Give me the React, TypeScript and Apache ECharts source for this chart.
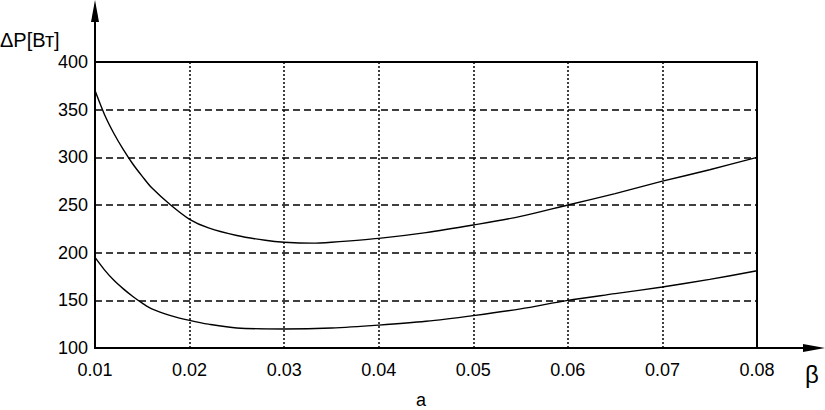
import React, { useEffect, useRef } from "react";
import * as echarts from "echarts";

const upperX = [0.01, 0.011, 0.012, 0.013, 0.014, 0.015, 0.016, 0.018, 0.02, 0.022, 0.025, 0.028, 0.03, 0.033, 0.035, 0.04, 0.045, 0.05, 0.055, 0.06, 0.065, 0.07, 0.075, 0.08];
const upperY = [370, 345, 325, 308, 293, 280, 268, 250, 235, 226, 218, 213, 211, 210, 211, 215, 221, 229, 238, 250, 262, 275, 287, 300];
const lowerX = [0.01, 0.011, 0.012, 0.013, 0.014, 0.015, 0.016, 0.018, 0.02, 0.022, 0.025, 0.03, 0.035, 0.04, 0.045, 0.05, 0.055, 0.06, 0.065, 0.07, 0.075, 0.08];
const lowerY = [195, 182, 171, 162, 154, 147, 141, 134, 129, 125, 121, 120, 121, 124, 128, 134, 141, 150, 157, 164, 172, 181];
const yTicks = [100, 150, 200, 250, 300, 350, 400];

const FONT = "'Liberation Sans', Arial, sans-serif";

export default function App() {
  const ref = useRef<HTMLDivElement>(null);
  useEffect(() => {
    const chart = echarts.init(ref.current!, null, { renderer: "svg" });
    const left = 95, right = 68, top = 62, bottom = 62;
    const W = 825, H = 410;
    const axisY = H - bottom;
    chart.setOption({
      animation: false,
      backgroundColor: "#fff",
      grid: { left, right, top, bottom, show: true, borderColor: "#000", borderWidth: 2 },
      xAxis: {
        type: "value", min: 0.01, max: 0.08, interval: 0.01,
        axisLine: { show: false },
        axisTick: { show: false },
        axisLabel: { color: "#000", fontFamily: FONT, fontSize: 18, margin: 13, formatter: (v: number) => v.toFixed(2) },
        splitLine: { show: true, lineStyle: { color: "#000", type: [2, 2], width: 1.5 } },
      },
      yAxis: {
        type: "value", min: yTicks[0], max: yTicks[yTicks.length - 1], interval: 50,
        axisLine: { show: false },
        axisTick: { show: false },
        axisLabel: { color: "#000", fontFamily: FONT, fontSize: 18, margin: 7 },
        splitLine: { show: true, lineStyle: { color: "#000", type: [7, 4], width: 1.5 } },
      },
      series: [
        { type: "line", data: upperX.map((x, i) => [x, upperY[i]]), showSymbol: false, smooth: 0.3, lineStyle: { color: "#000", width: 1.4 } },
        { type: "line", data: lowerX.map((x, i) => [x, lowerY[i]]), showSymbol: false, smooth: 0.3, lineStyle: { color: "#000", width: 1.4 } },
      ],
      graphic: [
        { type: "line", shape: { x1: left, y1: axisY + 1, x2: left, y2: 8 }, style: { stroke: "#000", lineWidth: 2 } },
        { type: "polygon", shape: { points: [[left, 0], [left - 4, 22], [left + 4, 22]] }, style: { fill: "#000" } },
        { type: "line", shape: { x1: left - 1, y1: axisY, x2: W - 8, y2: axisY }, style: { stroke: "#000", lineWidth: 2 } },
        { type: "polygon", shape: { points: [[W, axisY], [W - 22, axisY - 4], [W - 22, axisY + 4]] }, style: { fill: "#000" } },
        { type: "text", x: 0, y: 40, style: { text: "ΔP[Вт]", font: `20px ${FONT}`, fill: "#000", textVerticalAlign: "middle" } },
        { type: "text", x: 812, y: 374, style: { text: "β", font: `24px ${FONT}`, fill: "#000", textAlign: "center", textVerticalAlign: "middle" } },
        { type: "text", x: 421, y: 400, style: { text: "а", font: `18px ${FONT}`, fill: "#000", textAlign: "center", textVerticalAlign: "middle" } },
      ],
    });
    return () => chart.dispose();
  }, []);
  return <div ref={ref} style={{ position: "fixed", left: 0, top: 0, width: 825, height: 410 }} />;
}
